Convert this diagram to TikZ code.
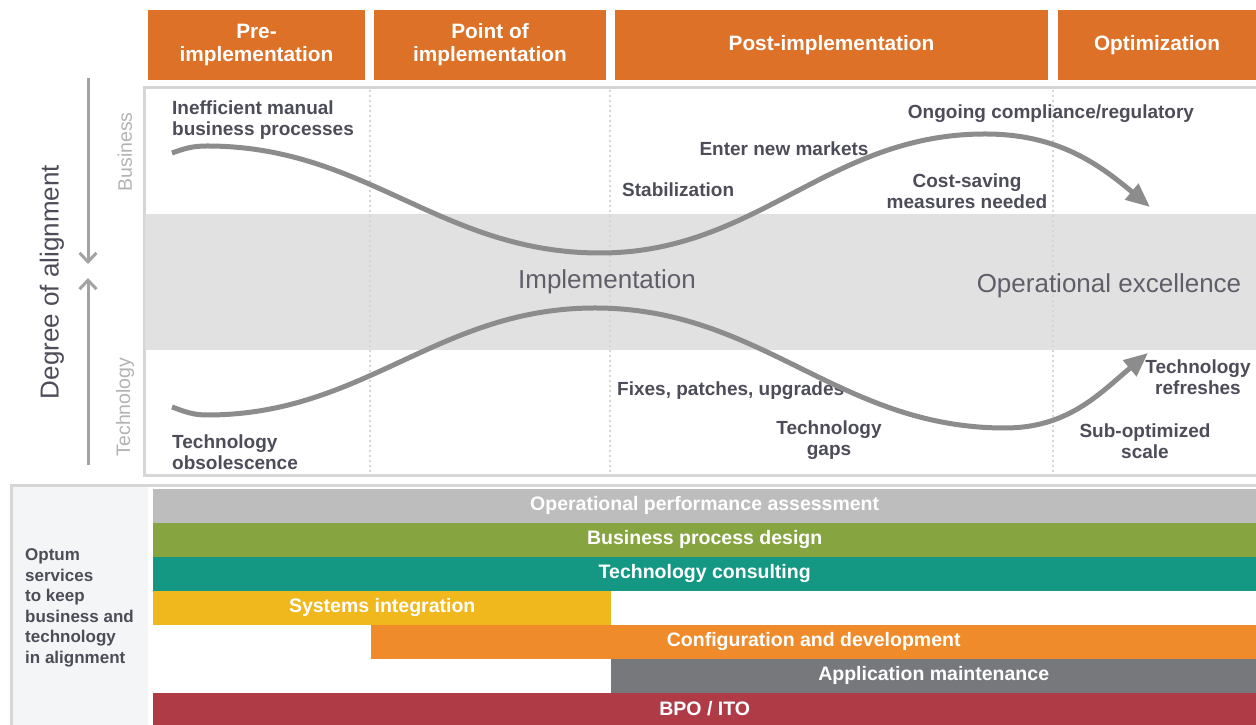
\documentclass[tikz,border=0pt]{standalone}
\usepackage{fontspec}
\setmainfont{Liberation Sans}
\usepackage{xcolor}
\usetikzlibrary{arrows.meta,positioning}

\definecolor{hdrorange}{HTML}{DD7128}
\definecolor{txtdark}{HTML}{4D4D59}
\definecolor{txtlight}{HTML}{B3B3B3}
\definecolor{curvegrey}{HTML}{8C8C8C}
\definecolor{bandgrey}{HTML}{E1E1E1}
\definecolor{framegrey}{HTML}{D6D6D6}
\definecolor{panelbg}{HTML}{F4F5F7}
\definecolor{opgrey}{HTML}{BDBDBD}
\definecolor{bpgreen}{HTML}{86A43F}
\definecolor{tcteal}{HTML}{149883}
\definecolor{sigold}{HTML}{F0B81D}
\definecolor{cdorange}{HTML}{EF8B2A}
\definecolor{amgrey}{HTML}{76787C}
\definecolor{bpored}{HTML}{AF3B47}

\begin{document}
\begin{tikzpicture}[
              x=1pt, y=1pt,
              phase/.style={fill=hdrorange, text=white, align=center, inner sep=0pt,
                font=\bfseries\fontsize{20.8}{23}\selectfont, minimum height=70pt},
              bar/.style={text=white, inner sep=0pt, anchor=south west, minimum height=34pt,
                font=\bfseries\fontsize{19.5}{22}\selectfont},
              lbl/.style={text=txtdark, inner sep=0pt, align=center,
                font=\bfseries\fontsize{19}{20.5}\selectfont},
              big/.style={text=txtdark!90, inner sep=0pt, font=\fontsize{26}{30}\selectfont},
              side/.style={text=txtlight, inner sep=0pt, rotate=90, font=\fontsize{19.5}{22}\selectfont},
              frame/.style={draw=framegrey, line width=3pt},
              divider/.style={draw=framegrey, line width=1.5pt, dash pattern=on 2pt off 3pt},
              flow/.style={draw=curvegrey, line width=5pt, -{Triangle[length=24pt,width=20pt]}},
              axis/.style={draw=curvegrey!80, line width=3pt, -{Straight Barb[length=9pt,width=17pt]}}
            ]

            \useasboundingbox (0,0) rectangle (1256,725);
            \fill[white] (0,0) rectangle (1256,725);

            % Panels
            \draw[frame, fill=white] (144,637) rectangle (1258,249);
            \fill[bandgrey] (145,511) rectangle (1256,375);
            \draw[divider] (370,635) -- (370,251);
            \draw[divider] (610,635) -- (610,251);
            \draw[divider] (1053,635) -- (1053,251);
            \draw[frame, fill=panelbg] (11,239) rectangle (1258,-3);
            \fill[white] (148,238) rectangle (1256,0);

            % Phase headers
            \node[phase, minimum width=217pt] (pre) at (256.5,680) {Pre-\\implementation};
            \node[phase, minimum width=232pt] (point) at (490,680) {Point of\\implementation};
            \node[phase, minimum width=433pt] (post) at (831.5,680) {Post-implementation};
            \node[phase, minimum width=198pt] (optim) at (1157,680) {Optimization};

            % Axis
            \node[text=txtdark, inner sep=0pt, rotate=90, font=\fontsize{26}{30}\selectfont]
              (degree) at (52,443) {Degree of alignment};
            \node[side] (business) at (125,573) {Business};
            \node[side] (technology) at (125,318) {Technology};
            \coordinate (axtop) at (88,647);
            \coordinate (axdown) at (88,461);
            \coordinate (axbot) at (88,260);
            \coordinate (axup) at (88,447);
            \draw[axis] (axtop) -- (axdown);
            \draw[axis] (axbot) -- (axup);

            % Band labels
            \node[big] (impl) at (607,443) {Implementation};
            \node[big] (opex) at (1109,439) {Operational excellence};

            % Business labels
            \node[lbl, anchor=west, align=left] (ineff) at (172,605) {Inefficient manual\\business processes};
            \node[lbl, anchor=west] (stab) at (622,535) {Stabilization};
            \node[lbl] (markets) at (784,576) {Enter new markets};
            \node[lbl] (ongoing) at (1051,611) {Ongoing compliance/regulatory};
            \node[lbl] (cost) at (967,534) {Cost-saving\\measures needed};

            % Technology labels
            \node[lbl, anchor=west] (fixes) at (617,334) {Fixes, patches, upgrades};
            \node[lbl] (gaps) at (829,285) {Technology\\gaps};
            \node[lbl] (refresh) at (1198,348) {Technology\\refreshes};
            \node[lbl] (subopt) at (1145,284) {Sub-optimized\\scale};
            \node[lbl, anchor=west, align=left] (obsol) at (172,273) {Technology\\obsolescence};

            % Curves
            \coordinate (b0) at (172,572);
            \coordinate (b1) at (207,579);
            \coordinate (b2) at (600,472);
            \coordinate (b3) at (985,591);
            \coordinate (b4) at (1150,518);
            \draw[flow] (b0) to[out=20,in=180] (b1) to[out=0,in=180] (b2)
              to[out=0,in=180] (b3) to[out=0,in=140] (b4);
            \coordinate (t0) at (172,318);
            \coordinate (t1) at (207,310);
            \coordinate (t2) at (595,417);
            \coordinate (t3) at (1005,297);
            \coordinate (t4) at (1148,372);
            \draw[flow] (t0) to[out=-20,in=180] (t1) to[out=0,in=180] (t2)
              to[out=0,in=180] (t3) to[out=0,in=-140] (t4);

            % Services
            \node[text=txtdark, inner sep=0pt, anchor=west, align=left,
              font=\bfseries\fontsize{17}{20.5}\selectfont] (optum) at (25,117)
              {Optum\\services\\to keep\\business and\\technology\\in alignment};
            \node[bar, fill=opgrey, minimum width=1103pt] (opa) at (153,202) {Operational performance assessment};
            \node[bar, fill=bpgreen, minimum width=1103pt] (bpd) at (153,168) {Business process design};
            \node[bar, fill=tcteal, minimum width=1103pt] (tc) at (153,134) {Technology consulting};
            \node[bar, fill=sigold, minimum width=458pt] (si) at (153,100) {Systems integration};
            \node[bar, fill=cdorange, minimum width=885pt] (cd) at (371,66) {Configuration and development};
            \node[bar, fill=amgrey, minimum width=645pt] (am) at (611,32) {Application maintenance};
            \node[bar, fill=bpored, minimum width=1103pt, minimum height=32pt] (bpo) at (153,0) {BPO / ITO};

            \end{tikzpicture}
\end{document}
